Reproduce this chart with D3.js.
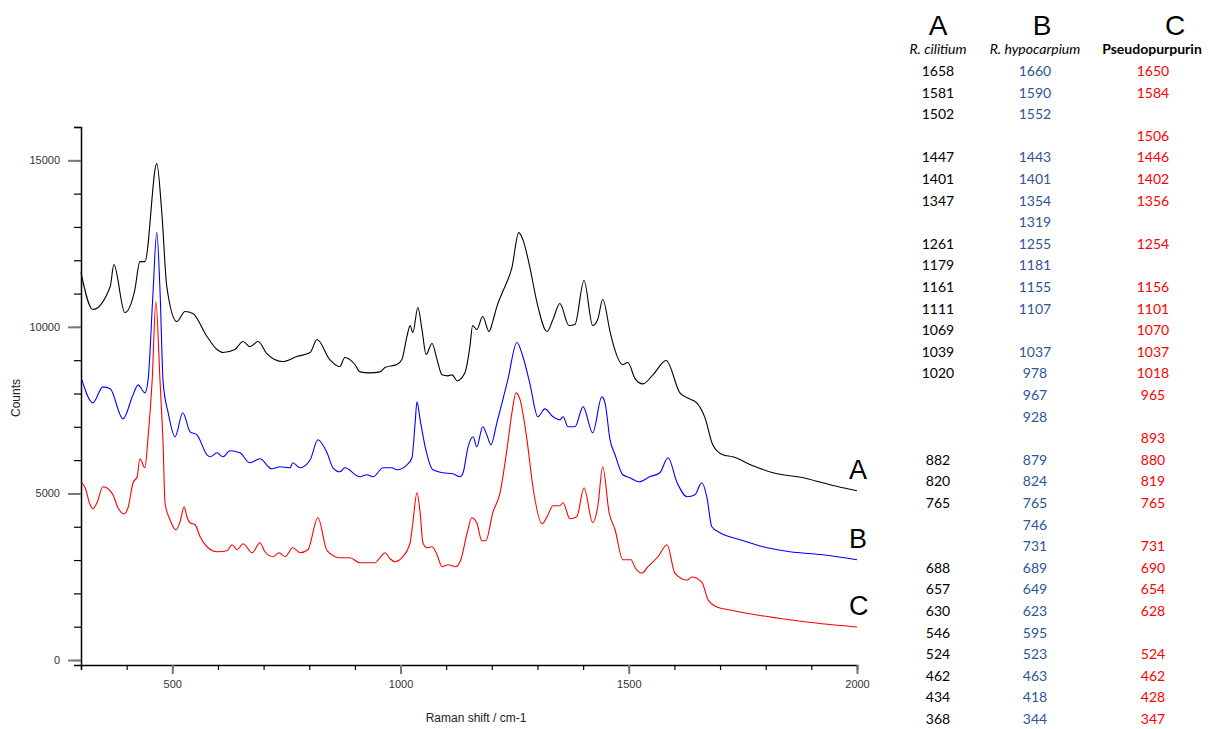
<!DOCTYPE html>
<html>
<head>
<meta charset="utf-8">
<script src="https://cdn.jsdelivr.net/npm/d3@7"></script>
<style>
  body { margin: 0; background: #fff; }
  svg { display: block; }
</style>
</head>
<body>
<script>
// spectrum A (black) - R. cilitium
const waveA = [300, 326, 364, 372, 396, 418, 429, 440, 466, 477, 488, 510, 528, 545, 576, 598, 611, 637, 655, 670, 688, 707, 742, 773, 802, 817, 845, 867, 878, 900, 911, 933, 955, 966, 992, 1003, 1014, 1021, 1027, 1038, 1047, 1056, 1069, 1080, 1091, 1104, 1113, 1124, 1141, 1152, 1158, 1167, 1180, 1194, 1202, 1211, 1224, 1244, 1259, 1268, 1283, 1299, 1321, 1334, 1349, 1369, 1382, 1402, 1421, 1432, 1443, 1459, 1465, 1487, 1498, 1514, 1531, 1553, 1582, 1612, 1628, 1649, 1667, 1684, 1706, 1728, 1772, 1816, 1882, 1925, 1969, 2000];
const countsA = [11630, 10520, 11210, 11870, 10430, 11120, 11960, 11960, 14900, 13430, 11210, 10160, 10460, 10400, 9710, 9320, 9230, 9320, 9560, 9410, 9560, 9200, 8960, 9110, 9230, 9620, 9020, 8810, 9080, 8870, 8650, 8620, 8650, 8780, 8870, 9020, 9710, 10040, 9830, 10580, 9920, 9170, 9500, 9020, 8560, 8530, 8560, 8380, 8620, 9410, 10040, 9920, 10310, 9860, 10160, 10610, 11060, 11780, 12830, 12620, 11810, 10730, 9860, 10220, 10700, 10040, 10070, 11390, 10040, 10220, 10820, 9860, 9530, 8870, 8930, 8440, 8290, 8560, 8990, 8020, 7870, 7720, 7270, 6460, 6160, 6100, 5830, 5620, 5470, 5320, 5170, 5080];

// spectrum B (blue) - R. hypocarpium
const waveB = [302, 326, 348, 364, 392, 414, 425, 440, 447, 457, 466, 473, 480, 491, 506, 523, 539, 554, 576, 583, 598, 611, 626, 648, 670, 692, 718, 736, 758, 764, 780, 802, 819, 839, 852, 867, 878, 911, 926, 940, 962, 981, 992, 1014, 1025, 1032, 1036, 1043, 1054, 1071, 1093, 1115, 1130, 1137, 1148, 1159, 1167, 1180, 1189, 1198, 1211, 1224, 1235, 1255, 1268, 1283, 1301, 1316, 1334, 1349, 1356, 1367, 1382, 1400, 1421, 1441, 1448, 1459, 1470, 1487, 1503, 1522, 1546, 1568, 1586, 1606, 1628, 1645, 1660, 1671, 1682, 1700, 1744, 1794, 1853, 1925, 2000];
const countsB = [8410, 7720, 8200, 8140, 7240, 7960, 8260, 8020, 8410, 10820, 12830, 11120, 8320, 7420, 6700, 7420, 6850, 6760, 6160, 6100, 6220, 6100, 6280, 6220, 5920, 6040, 5740, 5800, 5770, 5920, 5770, 6010, 6610, 6220, 5770, 5650, 5770, 5500, 5560, 5500, 5770, 5770, 5710, 5860, 6070, 7120, 7750, 7210, 6400, 5710, 5620, 5590, 5500, 5620, 6400, 6700, 6400, 7000, 6760, 6460, 7120, 7810, 8410, 9530, 9110, 8320, 7300, 7540, 7300, 7210, 7300, 7000, 7000, 7600, 6820, 7900, 7720, 6610, 6160, 5560, 5470, 5350, 5500, 5620, 6070, 5320, 4900, 4960, 5320, 4900, 4000, 3820, 3610, 3400, 3250, 3160, 3010];

// spectrum C (red) - Pseudopurpurin
const waveC = [302, 309, 320, 326, 335, 348, 364, 370, 381, 394, 403, 414, 423, 429, 440, 447, 456, 464, 473, 480, 484, 495, 508, 517, 526, 532, 539, 550, 561, 576, 598, 620, 631, 642, 655, 675, 692, 703, 721, 734, 747, 764, 780, 797, 819, 839, 867, 889, 911, 944, 955, 966, 977, 988, 1003, 1021, 1027, 1036, 1043, 1049, 1058, 1069, 1080, 1091, 1104, 1121, 1132, 1146, 1156, 1167, 1178, 1187, 1202, 1218, 1233, 1244, 1253, 1262, 1277, 1290, 1310, 1321, 1334, 1349, 1356, 1371, 1386, 1402, 1421, 1432, 1443, 1457, 1470, 1487, 1505, 1514, 1529, 1542, 1564, 1584, 1601, 1628, 1638, 1660, 1674, 1693, 1722, 1781, 1825, 1890, 2000];
const countsC = [5320, 5170, 4660, 4540, 4720, 5200, 5080, 4960, 4570, 4390, 4570, 5320, 5500, 6040, 5770, 6700, 8410, 10760, 8410, 6400, 4720, 4210, 3910, 4150, 4600, 4300, 4120, 4060, 3700, 3400, 3250, 3280, 3460, 3310, 3490, 3220, 3520, 3250, 3100, 3220, 3100, 3370, 3220, 3310, 4270, 3280, 3070, 3070, 2920, 2920, 3070, 3220, 3040, 2950, 3070, 3520, 4120, 5020, 4420, 3520, 3370, 3400, 3160, 2800, 2860, 2800, 3010, 3820, 4270, 4120, 3580, 3580, 4420, 5020, 6310, 7420, 8020, 7810, 6610, 5200, 4090, 4300, 4630, 4630, 4720, 4240, 4300, 5170, 4120, 4600, 5800, 4420, 3910, 3010, 3010, 2770, 2610, 2800, 3100, 3460, 2610, 2400, 2490, 2340, 1800, 1590, 1500, 1350, 1260, 1140, 990];

const seriesNames = ["A", "B", "C"];
const seriesColors = ["#000000", "#0000ff", "#ff0000"];

// peak table
const tableLetters = ["A", "B", "C"];
const tableTitles = ["R. cilitium", "R. hypocarpium", "Pseudopurpurin"];
const peaksA = [1658, 1581, 1502, null, 1447, 1401, 1347, null, 1261, 1179, 1161, 1111, 1069, 1039, 1020, null, null, null, 882, 820, 765, null, null, 688, 657, 630, 546, 524, 462, 434, 368];
const peaksB = [1660, 1590, 1552, null, 1443, 1401, 1354, 1319, 1255, 1181, 1155, 1107, null, 1037, 978, 967, 928, null, 879, 824, 765, 746, 731, 689, 649, 623, 595, 523, 463, 418, 344];
const peaksC = [1650, 1584, null, 1506, 1446, 1402, 1356, null, 1254, null, 1156, 1101, 1070, 1037, 1018, 965, null, 893, 880, 819, 765, null, 731, 690, 654, 628, null, 524, 462, 428, 347];
const tableColors = ["#000000", "#2f5597", "#ff0000"];

const w = 1209;
const h = 729;

const svg = d3.select("body").append("svg")
  .attr("width", w)
  .attr("height", h);

const xScale = d3.scaleLinear().domain([300, 2000]).range([81, 857]);
const yScale = d3.scaleLinear().domain([-150, 16000]).range([665, 127]);

// minor ticks
const yMinor = d3.axisLeft(yScale).tickValues(d3.range(0, 16001, 1000)).tickSize(7).tickFormat("");
const yMajor = d3.axisLeft(yScale).tickValues([0, 5000, 10000, 15000]).tickSize(13).tickPadding(8).tickFormat(d3.format("d"));
const xMinor = d3.axisBottom(xScale).tickValues(d3.range(300, 2001, 100)).tickSize(5).tickFormat("");
const xMajor = d3.axisBottom(xScale).tickValues([500, 1000, 1500, 2000]).tickSize(9).tickPadding(6).tickFormat(d3.format("d"));

const gy1 = svg.append("g").attr("transform", "translate(81,0)").call(yMinor);
const gy2 = svg.append("g").attr("transform", "translate(81,0)").call(yMajor);
const gx1 = svg.append("g").attr("transform", "translate(0,665)").call(xMinor);
const gx2 = svg.append("g").attr("transform", "translate(0,665)").call(xMajor);

[gy1, gx1].forEach((g) => {
  g.select(".domain").attr("stroke", "#000").attr("stroke-width", 1.5);
  g.selectAll(".tick line").attr("stroke", "#000").attr("stroke-width", 1.2);
});
[gy2, gx2].forEach((g) => {
  g.select(".domain").remove();
  g.selectAll(".tick line").attr("stroke", "#777").attr("stroke-width", 2);
  g.selectAll(".tick text")
    .attr("fill", "#333")
    .style("font-family", "Liberation Sans, Arial, sans-serif")
    .style("font-size", "11px");
});

svg.append("text")
  .attr("x", 476)
  .attr("y", 722)
  .attr("text-anchor", "middle")
  .style("font-family", "Liberation Sans, Arial, sans-serif")
  .style("font-size", "12px")
  .attr("fill", "#222")
  .text("Raman shift / cm-1");

svg.append("text")
  .attr("transform", "translate(20,398) rotate(-90)")
  .attr("text-anchor", "middle")
  .style("font-family", "Liberation Sans, Arial, sans-serif")
  .style("font-size", "12px")
  .attr("fill", "#222")
  .text("Counts");

// spectra
const spectra = [
  { name: "A", wave: waveA, counts: countsA },
  { name: "B", wave: waveB, counts: countsB },
  { name: "C", wave: waveC, counts: countsC },
];

const line = d3.line()
  .x((d) => xScale(d[0]))
  .y((d) => yScale(d[1]))
  .curve(d3.curveMonotoneX);

spectra.forEach((s, i) => {
  const pts = s.wave.map((v, j) => [v, s.counts[j]]);
  svg.append("path")
    .datum(pts)
    .attr("fill", "none")
    .attr("stroke", seriesColors[i])
    .attr("stroke-width", 1.1)
    .attr("d", line);

  // letter at the end of each trace
  const last = pts[pts.length - 1];
  svg.append("text")
    .attr("x", xScale(last[0]) - 8)
    .attr("y", yScale(last[1]) - 12)
    .style("font-family", "Liberation Sans, Arial, sans-serif")
    .style("font-size", "27px")
    .attr("fill", "#000")
    .text(seriesNames[i]);
});

// table on the right
const colX = [938, 1035, 1153];
const letterX = [938, 1042, 1175];
const columns = [peaksA, peaksB, peaksC];

tableLetters.forEach((l, i) => {
  svg.append("text")
    .attr("x", letterX[i])
    .attr("y", 35)
    .attr("text-anchor", "middle")
    .style("font-family", "Liberation Sans, Arial, sans-serif")
    .style("font-size", "28px")
    .text(l);

  svg.append("text")
    .attr("x", i === 2 ? 1152 : colX[i])
    .attr("y", 54)
    .attr("text-anchor", "middle")
    .style("font-family", "Lato, Open Sans, sans-serif")
    .style("font-size", "14px")
    .style("font-style", i === 2 ? "normal" : "italic")
    .style("font-weight", i === 2 ? "bold" : "normal")
    .text(tableTitles[i]);

  svg.append("g")
    .selectAll("text")
    .data(columns[i])
    .enter()
    .append("text")
    .attr("x", colX[i])
    .attr("y", (d, j) => 76 + j * 21.6)
    .attr("text-anchor", "middle")
    .attr("fill", tableColors[i])
    .style("font-family", "Lato, Open Sans, sans-serif")
    .style("font-size", "14px")
    .text((d) => (d === null ? "" : d));
});
</script>
</body>
</html>
